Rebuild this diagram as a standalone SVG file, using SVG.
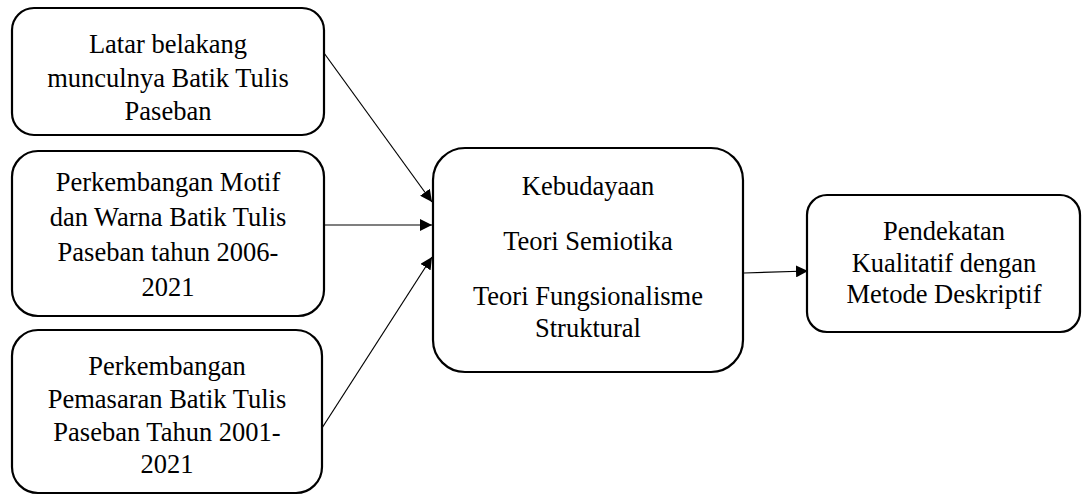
<svg xmlns="http://www.w3.org/2000/svg" width="1083" height="495" viewBox="0 0 1083 495">
<style>
.box{fill:#fff;stroke:#000;stroke-width:2.2}
.t{font-family:"Liberation Serif","Times New Roman",serif;font-size:26.5px;fill:#000;text-anchor:middle}
.c{stroke:#000;stroke-width:1.2;fill:none}
</style>
<defs>
<marker id="ah" viewBox="0 0 12 12" refX="12" refY="6" markerWidth="12" markerHeight="12" markerUnits="userSpaceOnUse" orient="auto">
<path d="M0,0 L12,6 L0,12 Z" fill="#000"/>
</marker>
</defs>
<rect width="1083" height="495" fill="#fff"/>
<g id="connectors">
<line class="c" x1="324" y1="53" x2="432" y2="202" marker-end="url(#ah)"/>
<line class="c" x1="324" y1="225" x2="432" y2="225" marker-end="url(#ah)"/>
<line class="c" x1="322" y1="428" x2="432" y2="257" marker-end="url(#ah)"/>
<line class="c" x1="744" y1="273" x2="808" y2="271" marker-end="url(#ah)"/>
</g>
<g id="n1">
<rect class="box" x="12" y="8" width="312" height="127" rx="22"/>
<text class="t" x="168" y="53">Latar belakang</text>
<text class="t" x="168" y="87">munculnya Batik Tulis</text>
<text class="t" x="168" y="120">Paseban</text>
</g>
<g id="n2">
<rect class="box" x="12" y="151" width="312" height="165" rx="26"/>
<text class="t" x="168" y="191">Perkembangan Motif</text>
<text class="t" x="168" y="226">dan Warna Batik Tulis</text>
<text class="t" x="168" y="261">Paseban tahun 2006-</text>
<text class="t" x="168" y="296">2021</text>
</g>
<g id="n3">
<rect class="box" x="12" y="330" width="310" height="163" rx="26"/>
<text class="t" x="167" y="375">Perkembangan</text>
<text class="t" x="167" y="408">Pemasaran Batik Tulis</text>
<text class="t" x="167" y="441">Paseban Tahun 2001-</text>
<text class="t" x="167" y="473">2021</text>
</g>
<g id="n4">
<rect class="box" x="433" y="148" width="310" height="224" rx="32"/>
<text class="t" x="588" y="195">Kebudayaan</text>
<text class="t" x="588" y="250">Teori Semiotika</text>
<text class="t" x="588" y="305">Teori Fungsionalisme</text>
<text class="t" x="588" y="337">Struktural</text>
</g>
<g id="n5">
<rect class="box" x="807" y="195" width="273" height="137" rx="20"/>
<text class="t" x="944" y="240">Pendekatan</text>
<text class="t" x="944" y="272">Kualitatif dengan</text>
<text class="t" x="944" y="303">Metode Deskriptif</text>
</g>
</svg>
